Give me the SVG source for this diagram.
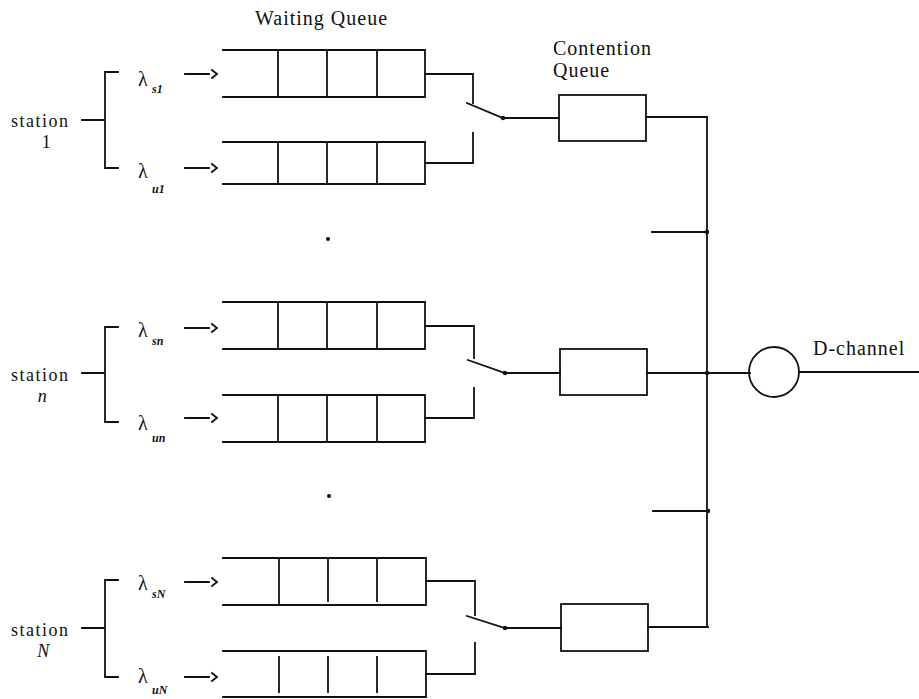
<svg xmlns="http://www.w3.org/2000/svg" width="919" height="699" viewBox="0 0 919 699">
  <style>
    .ln { fill: none; stroke: #111; stroke-width: 1.8; stroke-linecap: square; }
    .lbl { font-family: "Liberation Serif", "Times New Roman", serif; font-size: 20px; letter-spacing: 1px; fill: #111; }
    .stn { font-family: "Liberation Serif", "Times New Roman", serif; font-size: 18px; letter-spacing: 1.5px; fill: #111; }
    .lam { font-family: "Liberation Serif", "Times New Roman", serif; font-size: 20px; fill: #111; }
    .sub { font-family: "Liberation Serif", "Times New Roman", serif; font-size: 12px; font-style: italic; font-weight: bold; fill: #111; }
    .it { font-style: italic; }
    .dot { fill: #111; }
  </style>
  <rect width="919" height="699" fill="#fff"/>

  <!-- headings -->
  <text class="lbl" x="255" y="25">Waiting Queue</text>
  <text class="lbl" x="553" y="55">Contention</text>
  <text class="lbl" x="553" y="77">Queue</text>

  <!-- station 1 -->
  <g id="station-1">
    <text class="stn" x="11" y="127">station</text>
    <text class="stn" x="47" y="148" text-anchor="middle">1</text>
    <path class="ln" d="M82 120H105M118 72H105V168H118"/>
    <text class="lam" x="138" y="86">λ</text><text class="sub" x="152" y="93">s1</text>
    <text class="lam" x="138" y="178">λ</text><text class="sub" x="152" y="193">u1</text>
    <path class="ln" d="M185 74H209M212 70L217 74L212 78M185 168H209M212 164L217 168L212 172"/>
  </g>
  <g id="queue-s1">
    <path class="ln" d="M223 50H425V97H223M278 50V97M327 50V97M377 50V97"/>
  </g>
  <g id="queue-u1">
    <path class="ln" d="M223 142H425V184H223M278 142V184M327 142V184M377 142V184"/>
  </g>
  <g id="contention-1">
    <rect class="ln" x="559" y="95" width="87" height="46"/>
  </g>

  <!-- station n -->
  <g id="station-n">
    <text class="stn" x="11" y="381">station</text>
    <text class="stn it" x="43" y="402" text-anchor="middle">n</text>
    <path class="ln" d="M82 373H105M118 327H105V422H118"/>
    <text class="lam" x="138" y="337">λ</text><text class="sub" x="152" y="345">sn</text>
    <text class="lam" x="138" y="430">λ</text><text class="sub" x="152" y="442">un</text>
    <path class="ln" d="M185 328H209M212 324L217 328L212 332M185 418H209M212 414L217 418L212 422"/>
  </g>
  <g id="queue-sn">
    <path class="ln" d="M223 302H425V349H223M278 302V349M327 302V349M377 302V349"/>
  </g>
  <g id="queue-un">
    <path class="ln" d="M223 395H425V442H223M278 395V442M327 395V442M377 395V442"/>
  </g>
  <g id="contention-n">
    <rect class="ln" x="560" y="349" width="87" height="46"/>
  </g>

  <!-- station N -->
  <g id="station-N">
    <text class="stn" x="11" y="636">station</text>
    <text class="stn it" x="44" y="657" text-anchor="middle">N</text>
    <path class="ln" d="M82 628H105M118 580H105V677H118"/>
    <text class="lam" x="138" y="590">λ</text><text class="sub" x="152" y="598">sN</text>
    <text class="lam" x="138" y="683">λ</text><text class="sub" x="152" y="694">uN</text>
    <path class="ln" d="M185 582H209M212 578L217 582L212 586M185 677H209M212 673L217 677L212 681"/>
  </g>
  <g id="queue-sN">
    <path class="ln" d="M223 558H426V605H223M279 558V605M328 560V601M377 560V601"/>
  </g>
  <g id="queue-uN">
    <path class="ln" d="M223 651H426V697H223M279 657V692M328 657V692M377 657V692"/>
  </g>
  <g id="contention-N">
    <rect class="ln" x="561" y="604" width="87" height="47"/>
  </g>

  <!-- server -->
  <g id="d-channel">
    <circle class="ln" cx="774" cy="372" r="25"/>
    <text class="lbl" x="813" y="355">D-channel</text>
  </g>

  <!-- ellipsis between stations -->
  <circle class="dot" cx="328" cy="239" r="2"/>
  <circle class="dot" cx="329" cy="496" r="2"/>

  <!-- connectors -->
  <g id="connectors">
    <!-- station 1 switch -->
    <path class="ln" d="M425 74H473V103M425 163H473V133M467 103L503 118H559M646 117H707"/>
    <!-- station n switch -->
    <path class="ln" d="M425 326H474V358M425 418H474V388M468 360L505 373H560M647 373H750"/>
    <!-- station N switch -->
    <path class="ln" d="M426 581H475V615M426 674H475V643M467 616L505 628H561M648 627H708"/>
    <!-- bus to server -->
    <path class="ln" d="M707 117V627M652 232H707M653 511H708M799 372H919"/>
    <circle class="dot" cx="503" cy="118" r="2.2"/>
    <circle class="dot" cx="505" cy="373" r="2.2"/>
    <circle class="dot" cx="505" cy="628" r="2.2"/>
    <circle class="dot" cx="707" cy="232" r="2.2"/>
    <circle class="dot" cx="707" cy="373" r="2.2"/>
    <circle class="dot" cx="708" cy="511" r="2.2"/>
  </g>
</svg>
